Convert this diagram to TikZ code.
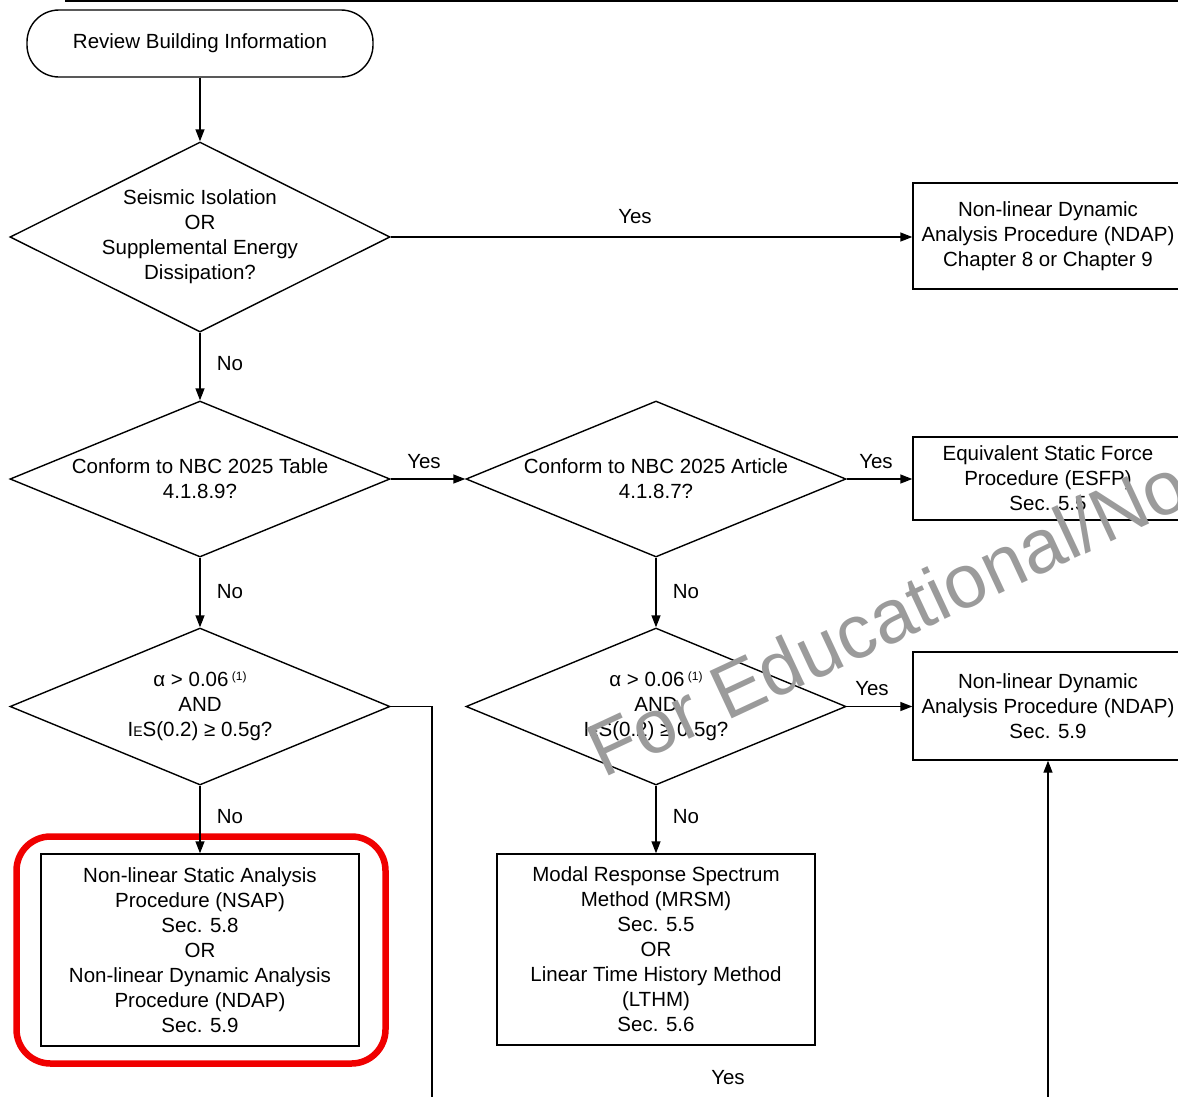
\documentclass[tikz,border=0pt]{standalone}
\usepackage{fontspec}
\setmainfont{Liberation Sans}
\usetikzlibrary{shapes.geometric,arrows.meta}
\definecolor{wmgray}{RGB}{155,155,155}
\definecolor{hlred}{RGB}{240,0,0}
\begin{document}
\begin{tikzpicture}[x=1pt,y=-1pt,
  every node/.style={font=\fontsize{20.5}{25}\selectfont},
  line width=1.4pt,
  term/.style={draw, rectangle, rounded corners=32pt, minimum width=346pt, minimum height=67pt, inner sep=0pt},
  dia/.style={draw, diamond, shape aspect=2, minimum width=380pt, inner xsep=-40pt, inner ysep=0pt, align=center},
  pbox/.style={draw, rectangle, inner sep=0pt, align=center},
  arr/.style={-{Triangle[length=12pt,width=9pt]}},
  lbl/.style={inner sep=0pt}
]
\useasboundingbox (0,0) rectangle (1178,1096);
\clip (0,0) rectangle (1178,1096);

% top rule
\draw[line width=2pt] (65,1) -- (1178,1);

% nodes
\node[term] (start) at (200,43.5) {Review Building Information};
\node[dia, minimum height=190pt] (d1) at (200,237) {Seismic Isolation\\OR\\Supplemental Energy\\Dissipation?};
\node[pbox, minimum width=270pt, minimum height=106pt] (ndap1) at (1048,236) {Non-linear Dynamic\\Analysis Procedure (NDAP)\\Chapter 8 or Chapter 9};
\node[dia, minimum height=156pt] (d2) at (200,479) {Conform to NBC 2025 Table\\4.1.8.9?};
\node[dia, minimum height=156pt] (d3) at (656,479) {Conform to NBC 2025 Article\\4.1.8.7?};
\node[pbox, minimum width=270pt, minimum height=83pt] (esfp) at (1048,478.5) {Equivalent Static Force\\Procedure (ESFP)\\Sec. 5.5};
\node[dia, minimum height=157pt] (d4) at (200,706.5) {α > 0.06\,\raisebox{6pt}{\fontsize{12}{12}\selectfont (1)}\\AND\\I{\fontsize{14}{14}\selectfont E}S(0.2) ≥ 0.5g?};
\node[dia, minimum height=157pt] (d5) at (656,706.5) {α > 0.06\,\raisebox{6pt}{\fontsize{12}{12}\selectfont (1)}\\AND\\I{\fontsize{14}{14}\selectfont E}S(0.2) ≥ 0.5g?};
\node[pbox, minimum width=270pt, minimum height=108pt] (ndap2) at (1048,706) {Non-linear Dynamic\\Analysis Procedure (NDAP)\\Sec. 5.9};
\node[pbox, minimum width=318pt, minimum height=192pt] (nsap) at (200,950) {Non-linear Static Analysis\\Procedure (NSAP)\\Sec. 5.8\\OR\\Non-linear Dynamic Analysis\\Procedure (NDAP)\\Sec. 5.9};
\node[pbox, minimum width=318pt, minimum height=191pt] (mrsm) at (656,949.5) {Modal Response Spectrum\\Method (MRSM)\\Sec. 5.5\\OR\\Linear Time History Method\\(LTHM)\\Sec. 5.6};

% highlight
\draw[hlred, line width=6.5pt, rounded corners=34pt] (16.5,836.5) rectangle (385.5,1063.5);

% connector helpers
\coordinate (c4a) at (432,706.5);
\coordinate (c4b) at (432,1110);
\coordinate (c6) at (1048,1110);

% connectors
\draw[arr] (start) -- (d1);
\draw[arr] (d1.east) -- (ndap1.west |- d1.east);
\draw[arr] (d1.south) -- (d2.north);
\draw[arr] (d2.east) -- (d3.west);
\draw[arr] (d3.east) -- (esfp.west |- d3.east);
\draw[arr] (d2.south) -- (d4.north);
\draw[arr] (d3.south) -- (d5.north);
\draw[arr] (d5.east) -- (ndap2.west |- d5.east);
\draw (d4.east) -- (c4a) -- (c4b);
\draw[arr] (d4.south) -- (nsap.north);
\draw[arr] (d5.south) -- (mrsm.north);
\draw[arr] (c6) -- (ndap2.south);

% labels
\node[lbl] (y1) at (635,217) {Yes};
\node[lbl] (n1) at (230,364) {No};
\node[lbl] (y2) at (424,462) {Yes};
\node[lbl] (y3) at (876,462) {Yes};
\node[lbl] (n2) at (230,592) {No};
\node[lbl] (n3) at (686,592) {No};
\node[lbl] (y4) at (872,689) {Yes};
\node[lbl] (n4) at (230,817) {No};
\node[lbl] (n5) at (686,817) {No};
\node[lbl] (y5) at (728,1078) {Yes};

% watermark
\node[font=\fontsize{76}{76}\selectfont, text=wmgray, rotate=25, anchor=base west, inner sep=0pt] (wm) at (603,779) {For Educational/No};
\end{tikzpicture}
\end{document}
